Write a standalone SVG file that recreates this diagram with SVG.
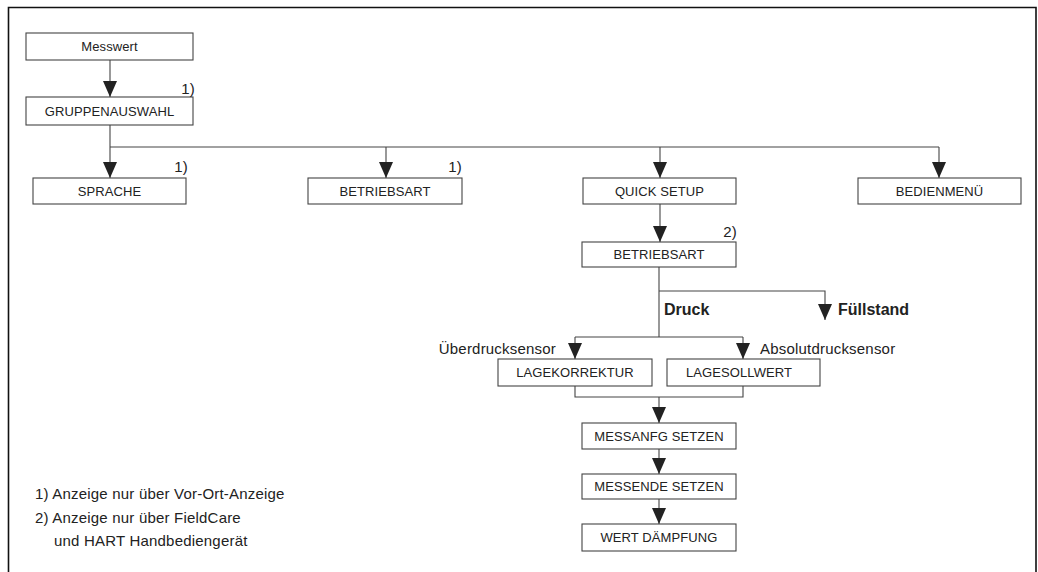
<svg xmlns="http://www.w3.org/2000/svg" width="1038" height="572" viewBox="0 0 1038 572">
<style>
.box{fill:#fff;stroke:#444;stroke-width:1.1}
.lbl{font-family:"Liberation Sans",Arial,sans-serif;font-size:13px;fill:#222;text-anchor:middle;letter-spacing:0.1px}
.note{font-family:"Liberation Sans",Arial,sans-serif;font-size:15px;fill:#222;letter-spacing:0.2px}
.bold{font-family:"Liberation Sans",Arial,sans-serif;font-size:16px;font-weight:bold;fill:#222}
.con{fill:none;stroke:#444;stroke-width:1.1}
.arr{marker-end:url(#ah)}
</style>
<defs>
<marker id="ah" markerUnits="userSpaceOnUse" markerWidth="16" markerHeight="14" refX="16" refY="7" orient="auto" viewBox="0 0 16 14">
<path d="M0,0 L16,7 L0,14 Z" fill="#222"/>
</marker>
</defs>
<rect width="1038" height="572" fill="#fff"/>
<path d="M8.5,580 V7.5 H1036 V580" fill="none" stroke="#111" stroke-width="1.6"/>

<g id="connectors">
<path class="con arr" d="M110,60 V97"/>
<path class="con arr" d="M110,125 V178"/>
<path class="con" d="M110,147 H939"/>
<path class="con arr" d="M386,147 V178"/>
<path class="con arr" d="M660,147 V178"/>
<path class="con arr" d="M939,147 V178"/>
<path class="con arr" d="M660,204 V242"/>
<path class="con" d="M659,267 V337"/>
<path class="con arr" d="M659,291 H825 V320"/>
<path class="con" d="M575,337 H743"/>
<path class="con arr" d="M575,337 V359"/>
<path class="con arr" d="M743,337 V359"/>
<path class="con" d="M575,386 V397 H743 V386"/>
<path class="con arr" d="M659,397 V423"/>
<path class="con arr" d="M659,449 V474"/>
<path class="con arr" d="M659,499 V524"/>
</g>

<g id="n-messwert"><rect class="box" x="26" y="33" width="167" height="27"/><text class="lbl" x="109.5" y="51">Messwert</text></g>
<g id="n-gruppenauswahl"><rect class="box" x="26" y="97" width="167" height="28"/><text class="lbl" x="109.5" y="115.5">GRUPPENAUSWAHL</text><text class="note" x="195" y="94" text-anchor="end">1)</text></g>
<g id="n-sprache"><rect class="box" x="33" y="178" width="153" height="26"/><text class="lbl" x="109.5" y="195.5">SPRACHE</text><text class="note" x="188" y="172" text-anchor="end">1)</text></g>
<g id="n-betriebsart1"><rect class="box" x="308" y="178" width="154" height="26"/><text class="lbl" x="385" y="195.5">BETRIEBSART</text><text class="note" x="462" y="172" text-anchor="end">1)</text></g>
<g id="n-quicksetup"><rect class="box" x="583" y="178" width="153" height="26"/><text class="lbl" x="659.5" y="195.5">QUICK SETUP</text></g>
<g id="n-bedienmenu"><rect class="box" x="858" y="178" width="163" height="26"/><text class="lbl" x="939.5" y="195.5">BEDIENMENÜ</text></g>
<g id="n-betriebsart2"><rect class="box" x="582" y="242" width="154" height="25"/><text class="lbl" x="659" y="259">BETRIEBSART</text><text class="note" x="737" y="237" text-anchor="end">2)</text></g>
<g id="n-druck"><text class="bold" x="664" y="315">Druck</text></g>
<g id="n-fuellstand"><text class="bold" x="838" y="315">Füllstand</text></g>
<g id="n-lagekorrektur"><rect class="box" x="498" y="359" width="154" height="27"/><text class="lbl" x="575" y="377">LAGEKORREKTUR</text><text class="note" x="556" y="354" text-anchor="end">Überdrucksensor</text></g>
<g id="n-lagesollwert"><rect class="box" x="667" y="359" width="153" height="27"/><text class="lbl" x="739" y="377">LAGESOLLWERT</text><text class="note" x="760" y="354">Absolutdrucksensor</text></g>
<g id="n-messanfg"><rect class="box" x="582" y="423" width="154" height="26"/><text class="lbl" x="659" y="440.5">MESSANFG SETZEN</text></g>
<g id="n-messende"><rect class="box" x="582" y="474" width="154" height="25"/><text class="lbl" x="659" y="491">MESSENDE SETZEN</text></g>
<g id="n-wertdaempfung"><rect class="box" x="582" y="524" width="154" height="27"/><text class="lbl" x="659" y="542">WERT DÄMPFUNG</text></g>

<g id="footnotes">
<text class="note" x="35" y="499">1) Anzeige nur über Vor-Ort-Anzeige</text>
<text class="note" x="35" y="523">2) Anzeige nur über FieldCare</text>
<text class="note" x="54" y="546">und HART Handbediengerät</text>
</g>
</svg>
